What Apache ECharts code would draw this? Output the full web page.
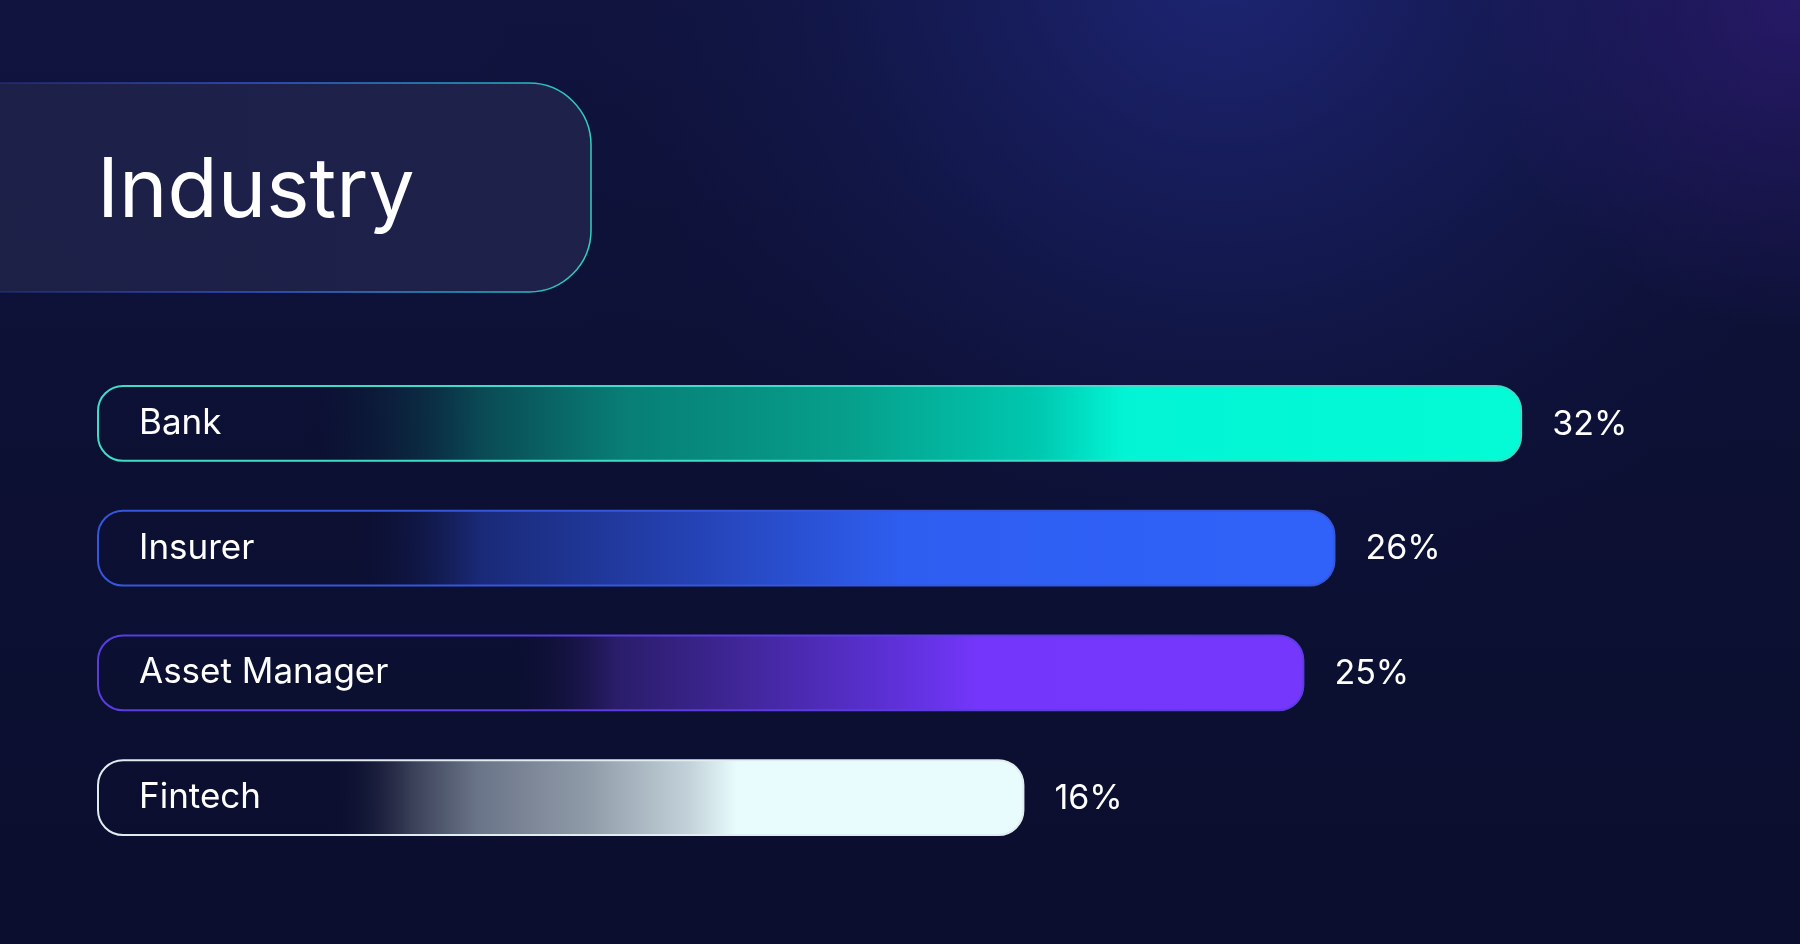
<!DOCTYPE html>
<html><head><meta charset="utf-8">
<script src="https://cdn.jsdelivr.net/npm/echarts@6/dist/echarts.min.js"></script>
<style>html,body{margin:0;padding:0;background:#0b0e2e;}#c{width:1800px;height:944px;}</style>
</head><body><div id="c"></div>
<script>
// ---- data ----
const categories = ['Bank', 'Insurer', 'Asset Manager', 'Fintech'];
const values = [32, 26, 25, 16];
const valueLabels = ['32%', '26%', '25%', '16%'];
const titleText = 'Industry';
const axisMin = -13.75;   // value-axis start (room for the name inside each bar)
const axisMax = 40;

// ---- styles ----
const barStyles = [
  { border: '#3fdcc6', stops: [
    { offset: 0, color: 'rgba(11,14,46,0)' }, { offset: 0.14, color: 'rgba(11,14,46,0.0)' },
    { offset: 0.27, color: '#0a4a55' }, { offset: 0.37, color: '#087e76' },
    { offset: 0.53, color: '#06a08c' }, { offset: 0.66, color: '#00c8b0' },
    { offset: 0.72, color: '#02f4d4' }, { offset: 1, color: '#03fbd5' } ] },
  { border: '#3656dc', stops: [
    { offset: 0, color: 'rgba(11,14,46,0)' }, { offset: 0.2, color: 'rgba(11,14,46,0.0)' },
    { offset: 0.31, color: '#1a2a78' }, { offset: 0.48, color: '#2542b4' },
    { offset: 0.65, color: '#2e5ef0' }, { offset: 1, color: '#3062fa' } ] },
  { border: '#5b3ddf', stops: [
    { offset: 0, color: 'rgba(11,14,46,0)' }, { offset: 0.34, color: 'rgba(11,14,46,0.0)' },
    { offset: 0.43, color: '#2a1d6a' }, { offset: 0.52, color: '#3d2592' },
    { offset: 0.65, color: '#5a30d2' }, { offset: 0.73, color: '#7436fb' }, { offset: 1, color: '#7637fd' } ] },
  { border: '#dfecf0', stops: [
    { offset: 0, color: 'rgba(11,14,46,0)' }, { offset: 0.25, color: 'rgba(11,14,46,0.0)' },
    { offset: 0.34, color: '#3a4058' }, { offset: 0.41, color: '#6a7488' },
    { offset: 0.53, color: '#909ba9' }, { offset: 0.64, color: '#c4d3da' },
    { offset: 0.69, color: '#e8fcfd' }, { offset: 1, color: '#e8fcfd' } ] }
];

const chart = echarts.init(document.getElementById('c'), null, { renderer: 'canvas' });

const option = {
  backgroundColor: '#0b0e2e',
  animation: false,
  graphic: [
    { type: 'rect', z: -101, shape: { x: 0, y: 0, width: 1800, height: 944 },
      style: { fill: new echarts.graphic.LinearGradient(0, 0, 0, 1, [
        { offset: 0, color: '#10143f' }, { offset: 0.5, color: '#0c1033' }, { offset: 1, color: '#0b0e2e' } ]) } },
    { type: 'rect', z: -100, shape: { x: 0, y: 0, width: 1800, height: 944 },
      style: { fill: new echarts.graphic.RadialGradient(0.68, -0.05, 0.8, [
        { offset: 0, color: 'rgba(30,38,118,1)' }, { offset: 0.45, color: 'rgba(22,28,90,0.6)' }, { offset: 1, color: 'rgba(11,14,46,0)' } ]) } },
    { type: 'rect', z: -99, shape: { x: 0, y: 0, width: 1800, height: 944 },
      style: { fill: new echarts.graphic.RadialGradient(1, 0, 0.35, [
        { offset: 0, color: 'rgba(60,30,140,0.5)' }, { offset: 1, color: 'rgba(60,30,140,0)' } ]) } },
    { type: 'rect', z: -50, shape: { x: -80, y: 83, width: 671, height: 209, r: 62 },
      style: {
        fill: new echarts.graphic.LinearGradient(0, 0, 1, 0, [
          { offset: 0, color: 'rgba(34,37,76,0.7)' }, { offset: 1, color: 'rgba(34,37,78,0.8)' } ]),
        stroke: new echarts.graphic.LinearGradient(0, 0, 1, 0, [
          { offset: 0, color: 'rgba(60,80,200,0.12)' }, { offset: 0.5, color: '#3553c8' },
          { offset: 0.85, color: '#2aa6c2' }, { offset: 1, color: '#2fd2bd' } ]),
        lineWidth: 1.5 } },
    { type: 'text', z: 10, x: 97, y: 192,
      style: { text: titleText, fill: '#ffffff', fontSize: 82, fontFamily: 'Inter', fontWeight: 400,
               verticalAlign: 'middle', align: 'left' } }
  ],
  grid: { left: 98, right: 30, top: 361, height: 499 },
  xAxis: { type: 'value', min: axisMin, max: axisMax, show: false },
  yAxis: {
    type: 'category', data: categories, inverse: true, z: 10,
    axisLine: { show: false }, axisTick: { show: false }, splitLine: { show: false },
    axisLabel: { inside: true, margin: 41, color: '#ffffff', fontSize: 35, fontFamily: 'Inter', align: 'left' }
  },
  series: [{
    type: 'custom',
    data: values.map((v, i) => [v, i]),
    encode: { x: 0, y: 1 },
    renderItem: function (params, api) {
      const idx = api.value(1);
      const v = api.value(0);
      const start = api.coord([axisMin, idx]);
      const end = api.coord([v, idx]);
      const h = api.size([0, 1])[1] * 0.6;
      const st = barStyles[idx];
      return {
        type: 'group',
        children: [
          { type: 'rect',
            shape: { x: start[0], y: start[1] - h / 2, width: end[0] - start[0], height: h, r: 25 },
            style: { fill: new echarts.graphic.LinearGradient(0, 0, 1, 0, st.stops), stroke: st.border, lineWidth: 2 } },
          { type: 'text', x: end[0] + 31, y: end[1] + 1,
            style: { text: valueLabels[idx], fill: '#ffffff', fontSize: 34, fontFamily: 'Inter',
                     verticalAlign: 'middle', align: 'left' } }
        ]
      };
    }
  }]
};
chart.setOption(option);
</script></body></html>
